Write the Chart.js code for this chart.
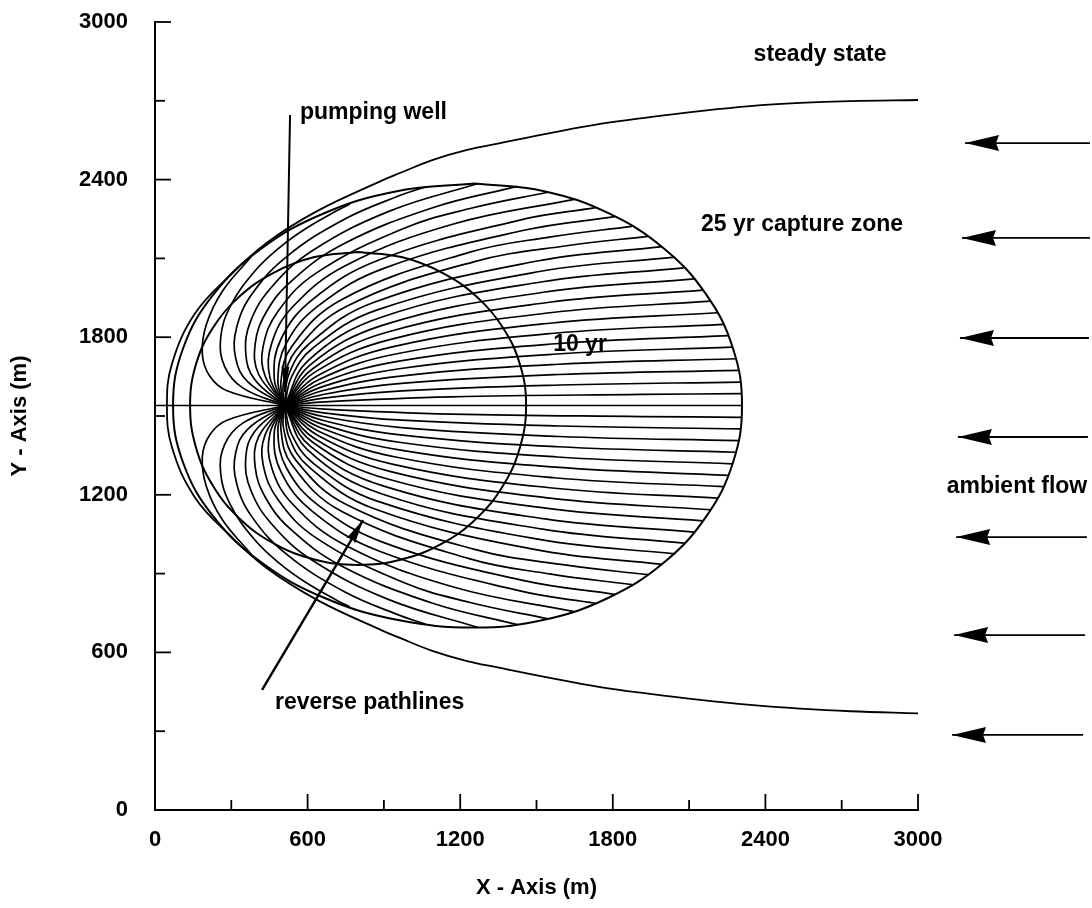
<!DOCTYPE html>
<html><head><meta charset="utf-8">
<script src="https://cdn.jsdelivr.net/npm/chart.js@4.4.1/dist/chart.umd.min.js"></script>
<style>html,body{margin:0;padding:0;background:#fff}#wrap{width:1092px;height:908px;position:relative}</style>
</head><body><div id="wrap"><canvas id="c"></canvas></div>
<script>
// ---------- data (metres) ----------
const majorTickValues = [0, 600, 1200, 1800, 2400, 3000];
const minorTickStep = 300;

const steadyState = [[3000,2703],[2733,2699],[2536,2692],[2340,2680],[2143,2661],[1946,2638],[1750,2612],[1553,2577],[1357,2539],[1227,2513],[1093,2475],[963,2425],[896,2398],[637,2280],[440,2160],[295,2035],[157,1890],[67,1700],[47,1540],[67,1380],[157,1190],[295,1045],[440,920],[637,800],[896,682],[963,655],[1093,605],[1227,567],[1357,541],[1553,503],[1750,468],[1946,442],[2143,419],[2340,400],[2536,386],[2733,376],[3000,368]];

const capture25yr = [[1258,2385],[1530,2356],[1783,2272],[2001,2138],[2167,1963],[2272,1759],[2308,1540],[2272,1321],[2167,1117],[2001,942],[1783,808],[1530,724],[1258,695],[951,724],[665,808],[419,942],[230,1117],[111,1321],[71,1540],[111,1759],[230,1963],[419,2138],[665,2272],[951,2356],[1258,2385]];

const isochrone10yr = [[798,2124],[969,2105],[1128,2046],[1265,1954],[1370,1833],[1436,1693],[1459,1540],[1436,1384],[1370,1237],[1265,1111],[1128,1014],[969,954],[798,933],[627,954],[468,1014],[331,1111],[226,1237],[160,1384],[138,1540],[160,1693],[226,1833],[331,1954],[468,2046],[627,2105],[798,2124]];

const centerLine = [[0,1540],[510,1540]];

const pathlinesUpper = [
 [[510,1540],[2308,1540]],
 [[510,1540],[668,1554],[1166,1573],[1914,1582],[2306,1585]],
 [[510,1540],[663,1568],[971,1596],[1591,1618],[2302,1629]],
 [[510,1540],[661,1582],[969,1624],[1588,1658],[2295,1674]],
 [[510,1540],[658,1596],[965,1652],[1585,1697],[2284,1718]],
 [[510,1540],[653,1610],[960,1680],[1581,1736],[2271,1762]],
 [[510,1540],[649,1624],[954,1708],[1576,1775],[2255,1806]],
 [[510,1540],[643,1638],[946,1736],[1569,1815],[2235,1849]],
 [[510,1540],[637,1652],[937,1764],[1562,1854],[2212,1893]],
 [[510,1540],[627,1666],[927,1792],[1553,1893],[2185,1937]],
 [[510,1540],[620,1680],[915,1820],[1544,1932],[2155,1979]],
 [[510,1540],[609,1694],[903,1848],[1534,1972],[2120,2022]],
 [[510,1540],[599,1708],[890,1876],[1524,2011],[2080,2064]],
 [[510,1540],[537,1649],[621,1759],[874,1904],[1511,2050],[2045,2105]],
 [[510,1540],[526,1658],[606,1775],[859,1932],[1497,2089],[1993,2145]],
 [[510,1540],[505,1624],[555,1750],[754,1918],[1253,2087],[1625,2149],[1938,2184]],
 [[510,1540],[495,1630],[537,1764],[735,1944],[1235,2123],[1557,2182],[1875,2222]],
 [[510,1540],[483,1635],[517,1778],[644,1921],[905,2064],[1451,2207],[1808,2259]],
 [[510,1540],[469,1641],[495,1792],[620,1944],[883,2095],[1435,2246],[1732,2293]],
 [[510,1540],[452,1646],[458,1774],[539,1913],[750,2073],[1177,2232],[1648,2325]],
 [[510,1540],[433,1652],[425,1764],[484,1899],[635,2045],[975,2213],[1239,2290],[1545,2352]],
 [[510,1540],[408,1658],[394,1775],[436,1893],[533,2011],[735,2152],[1092,2293],[1425,2374]],
 [[510,1540],[392,1639],[357,1737],[376,1861],[463,1996],[623,2132],[922,2280],[1270,2385]],
 [[510,1540],[365,1630],[317,1721],[321,1837],[382,1965],[518,2107],[745,2249],[970,2342],[1063,2372]],
 [[510,1540],[345,1607],[274,1688],[258,1796],[296,1917],[392,2051],[492,2143],[592,2213],[716,2282],[766,2306]],
 [[510,1540],[283,1596],[215,1652],[186,1736],[202,1848],[265,1975],[378,2106]]
];

const pathlinesLower = [
 [[510,1540],[668,1526],[1166,1507],[1914,1498],[2306,1495]],
 [[510,1540],[663,1512],[971,1484],[1591,1462],[2302,1451]],
 [[510,1540],[661,1498],[969,1456],[1588,1422],[2295,1406]],
 [[510,1540],[658,1484],[965,1428],[1585,1383],[2284,1362]],
 [[510,1540],[653,1470],[960,1400],[1581,1344],[2271,1318]],
 [[510,1540],[649,1456],[954,1372],[1576,1305],[2255,1274]],
 [[510,1540],[643,1442],[946,1344],[1569,1265],[2235,1231]],
 [[510,1540],[637,1428],[937,1316],[1562,1226],[2212,1187]],
 [[510,1540],[627,1414],[927,1288],[1553,1187],[2185,1143]],
 [[510,1540],[620,1400],[915,1260],[1544,1148],[2155,1101]],
 [[510,1540],[609,1386],[903,1232],[1534,1108],[2120,1058]],
 [[510,1540],[599,1372],[890,1204],[1524,1069],[2080,1016]],
 [[510,1540],[537,1431],[621,1321],[874,1176],[1511,1030],[2045,975]],
 [[510,1540],[526,1422],[606,1305],[859,1148],[1497,991],[1993,935]],
 [[510,1540],[505,1456],[555,1330],[754,1162],[1253,993],[1625,931],[1938,896]],
 [[510,1540],[495,1450],[537,1316],[735,1136],[1235,957],[1557,898],[1875,858]],
 [[510,1540],[483,1445],[517,1302],[644,1159],[905,1016],[1451,873],[1808,821]],
 [[510,1540],[469,1439],[495,1288],[620,1136],[883,985],[1435,834],[1732,787]],
 [[510,1540],[452,1434],[458,1306],[539,1167],[750,1007],[1177,848],[1648,755]],
 [[510,1540],[433,1428],[425,1316],[484,1181],[635,1035],[975,867],[1239,790],[1545,728]],
 [[510,1540],[408,1422],[394,1305],[436,1187],[533,1069],[735,928],[1092,787],[1425,706]],
 [[510,1540],[392,1441],[357,1343],[376,1219],[463,1084],[623,948],[922,800],[1270,695]],
 [[510,1540],[365,1450],[317,1359],[321,1243],[382,1115],[518,973],[745,831],[970,738],[1063,708]],
 [[510,1540],[345,1473],[274,1392],[258,1284],[296,1163],[392,1029],[492,937],[592,867],[716,798],[766,774]],
 [[510,1540],[283,1484],[215,1428],[186,1344],[202,1232],[265,1105],[378,974]]
];

const wellPointer = [[531,2646],[511,1591]];
const pathlinePointer = [[421,457],[818,1104]];
const ambientFlowArrows = [
 [[3676,2539],[3185,2539]],
 [[3676,2178],[3173,2178]],
 [[3672,1797],[3165,1797]],
 [[3668,1420],[3157,1420]],
 [[3664,1039],[3150,1039]],
 [[3657,666],[3142,666]],
 [[3649,286],[3134,286]]
];

const annotationTexts = ['steady state','pumping well','25 yr capture zone','10 yr','ambient flow','reverse pathlines'];
const annotationAnchors = [[2615,2874],[570,2653],[2147,2227],[1671,1770],[3389,1230],[472,407]];
const annotationAlign = ['center','left','left','center','center','left'];

// ---------- chart ----------
const FONT = '"Liberation Sans", Arial, Helvetica, sans-serif';
const INK = '#000';
const datasets = [];
function addLine(pts, opts) {
  datasets.push(Object.assign({
    data: pts, borderColor: INK, borderWidth: 1.6, pointRadius: 0,
    tension: 0.4, fill: false
  }, opts || {}));
}
pathlinesUpper.forEach(p => addLine(p, {borderWidth: 1.7}));
pathlinesLower.forEach(p => addLine(p, {borderWidth: 1.7}));
addLine(centerLine, {tension: 0, borderWidth: 1.6});
addLine(isochrone10yr, {borderWidth: 2});
addLine(capture25yr, {borderWidth: 2});
addLine(steadyState, {borderWidth: 1.8});
addLine(wellPointer, {tension: 0, borderWidth: 2, clip: false, arrowHead: [26, 4]});
addLine(pathlinePointer, {tension: 0, borderWidth: 2.4, clip: false, arrowHead: [24, 5]});
ambientFlowArrows.forEach(a => addLine(a, {tension: 0, borderWidth: 1.8, clip: false, arrowHead: [34, 8]}));

const overlay = {
  id: 'overlay',
  afterDatasetsDraw(chart) {
    const {ctx, scales: {x, y}} = chart;
    ctx.save();
    ctx.strokeStyle = INK; ctx.fillStyle = INK; ctx.lineWidth = 1.8;
    // inward tick marks
    x.ticks.forEach(t => {
      if (t.value === 0) return;
      const px = x.getPixelForValue(t.value);
      const L = majorTickValues.includes(t.value) ? 16 : 10;
      ctx.beginPath(); ctx.moveTo(px, y.bottom); ctx.lineTo(px, y.bottom - L); ctx.stroke();
    });
    y.ticks.forEach(t => {
      if (t.value === 0) return;
      const py = y.getPixelForValue(t.value);
      const L = majorTickValues.includes(t.value) ? 16 : 10;
      ctx.beginPath(); ctx.moveTo(x.left, py); ctx.lineTo(x.left + L, py); ctx.stroke();
    });
    // arrow heads
    chart.data.datasets.forEach((ds, i) => {
      if (!ds.arrowHead) return;
      const pts = chart.getDatasetMeta(i).data;
      const tip = pts[pts.length - 1], prev = pts[pts.length - 2];
      const dx = tip.x - prev.x, dy = tip.y - prev.y, len = Math.hypot(dx, dy);
      const ux = dx / len, uy = dy / len;
      const [L, W] = ds.arrowHead;
      const bx = tip.x - ux * L, by = tip.y - uy * L;
      ctx.beginPath();
      ctx.moveTo(tip.x, tip.y);
      ctx.lineTo(bx - uy * W, by + ux * W);
      ctx.lineTo(bx + ux * 3, by + uy * 3);
      ctx.lineTo(bx + uy * W, by - ux * W);
      ctx.closePath(); ctx.fill();
    });
    // annotation texts
    ctx.font = 'bold 23px ' + FONT;
    ctx.textBaseline = 'middle';
    annotationTexts.forEach((txt, i) => {
      ctx.textAlign = annotationAlign[i];
      ctx.fillText(txt, x.getPixelForValue(annotationAnchors[i][0]), y.getPixelForValue(annotationAnchors[i][1]));
    });
    ctx.restore();
  }
};

const tickCallback = v => (majorTickValues.includes(v) ? String(v) : '');

new Chart(document.getElementById('c'), {
  type: 'line',
  data: {datasets},
  options: {
    responsive: true, maintainAspectRatio: false, animation: false,
    layout: {padding: {top: 22, right: 174, left: 0, bottom: 0}},
    plugins: {legend: {display: false}, tooltip: {enabled: false}},
    scales: {
      x: {
        type: 'linear', min: 0, max: 3000,
        ticks: {stepSize: minorTickStep, autoSkip: false, maxRotation: 0, padding: 17, color: INK, font: {family: FONT, size: 22, weight: 'bold'}, callback: tickCallback},
        grid: {display: false, drawTicks: false},
        border: {display: true, color: INK, width: 2},
        title: {display: true, text: 'X - Axis (m)', color: INK, font: {family: FONT, size: 22, weight: 'bold'}, padding: {top: 0, bottom: 7}},
        afterFit(s) { s.height = 98; s.paddingLeft = 0; s.paddingRight = 0; }
      },
      y: {
        type: 'linear', min: 0, max: 3000,
        ticks: {stepSize: minorTickStep, autoSkip: false, padding: 27, color: INK, font: {family: FONT, size: 22, weight: 'bold'}, callback: tickCallback},
        grid: {display: false, drawTicks: false},
        border: {display: true, color: INK, width: 2},
        title: {display: true, text: 'Y - Axis (m)', color: INK, font: {family: FONT, size: 22, weight: 'bold'}, padding: {top: 7, bottom: 0}},
        afterFit(s) { s.width = 155; s.paddingTop = 0; s.paddingBottom = 0; }
      }
    }
  },
  plugins: [overlay]
});
</script>
</body></html>
